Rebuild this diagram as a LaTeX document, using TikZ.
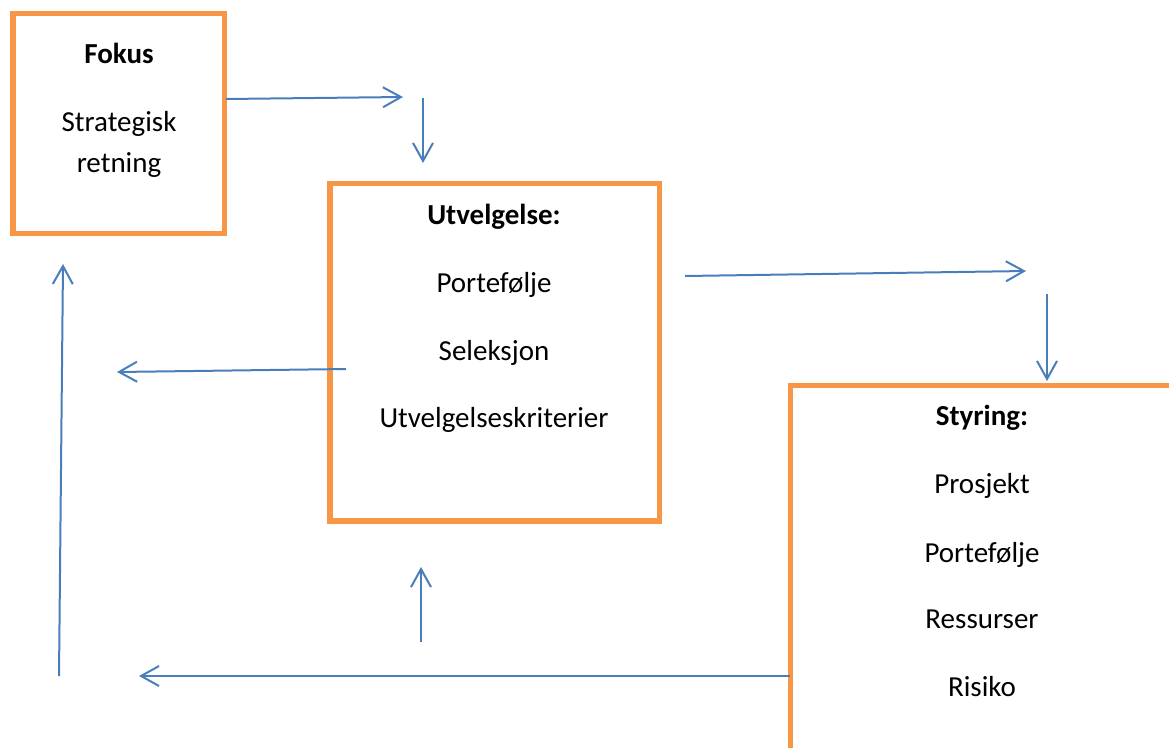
\documentclass[tikz,border=0pt]{standalone}
\usepackage{fontspec}
\setmainfont{Carlito}
\usetikzlibrary{arrows.meta}
\definecolor{boxorange}{HTML}{F79646}
\definecolor{flowblue}{HTML}{4A7EBB}

\begin{document}
\begin{tikzpicture}[x=1pt,y=-1pt,
  frame/.style={draw=boxorange, line width=5.5pt, fill=white, inner sep=0pt, rectangle},
  boxtext/.style={anchor=base, inner sep=0pt, font=\fontsize{29}{35}\selectfont},
  boxhead/.style={font=\fontsize{29}{35}\selectfont\bfseries, anchor=base, inner sep=0pt},
  flow/.style={draw=flowblue, line width=2pt, -{Straight Barb[length=18pt,width=20pt]}}]

\useasboundingbox (0,0) rectangle (1169,747);
\clip (0,0) rectangle (1169,747);

% the three boxes
\node[frame, minimum width=211.5pt, minimum height=220pt] (fokus) at (118.75,123.5) {};
\node[frame, minimum width=329.5pt, minimum height=337.5pt] (utv) at (494.75,352.25) {};
\node[frame, minimum width=383.5pt, minimum height=394.5pt] (sty) at (982.25,582.75) {};

% box texts
\node[boxhead] (fk1) at (119,63)  {Fokus};
\node[boxtext] (fk2) at (119,131) {Strategisk};
\node[boxtext] (fk3) at (119,172) {retning};

\node[boxhead] (ut1) at (494,224) {Utvelgelse:};
\node[boxtext] (ut2) at (494,292) {Portefølje};
\node[boxtext] (ut3) at (494,360) {Seleksjon};
\node[boxtext] (ut4) at (494,427) {Utvelgelseskriterier};

\node[boxhead] (st1) at (982,425) {Styring:};
\node[boxtext] (st2) at (982,493) {Prosjekt};
\node[boxtext] (st3) at (982,562) {Portefølje};
\node[boxtext] (st4) at (982,628) {Ressurser};
\node[boxtext] (st5) at (982,696) {Risiko};

% free ends of the arrows
\coordinate (a1s) at (226,99);   \coordinate (a1e) at (403,97);
\coordinate (a2s) at (423,98);   \coordinate (a2e) at (423,163);
\coordinate (a3s) at (685,276);  \coordinate (a3e) at (1026,271);
\coordinate (a4s) at (1047,294); \coordinate (a4e) at (1047,381);
\coordinate (a5s) at (346,369);  \coordinate (a5e) at (117,372);
\coordinate (a6s) at (59,676);   \coordinate (a6e) at (63,264);
\coordinate (a7s) at (421,642);  \coordinate (a7e) at (421,567);
\coordinate (a8s) at (790,676);  \coordinate (a8e) at (139,676);

% arrows
\draw[flow] (a1s) -- (a1e);
\draw[flow] (a2s) -- (a2e);
\draw[flow] (a3s) -- (a3e);
\draw[flow] (a4s) -- (a4e);
\draw[flow] (a5s) -- (a5e);
\draw[flow] (a6s) -- (a6e);
\draw[flow] (a7s) -- (a7e);
\draw[flow] (a8s) -- (a8e);
\end{tikzpicture}
\end{document}
